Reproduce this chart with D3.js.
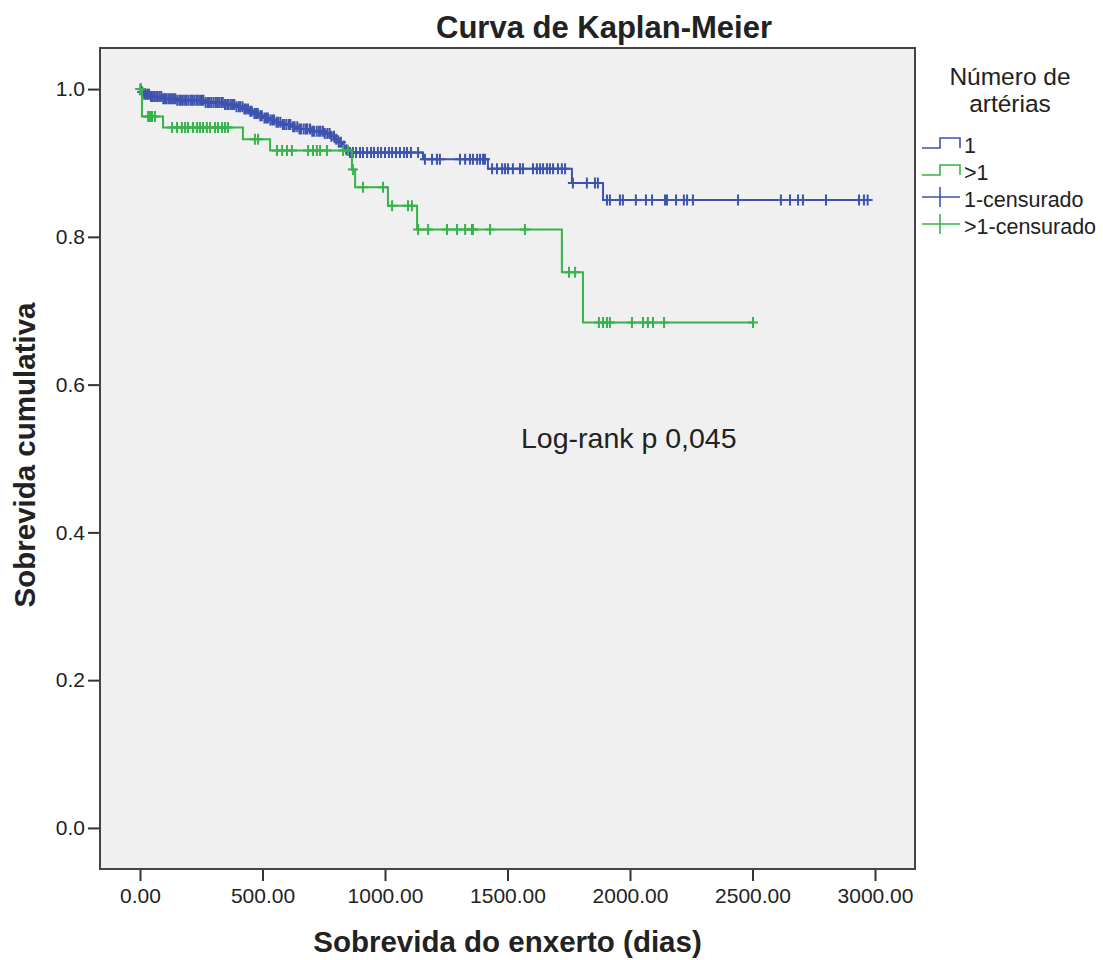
<!DOCTYPE html>
<html>
<head>
<meta charset="utf-8">
<title>Curva de Kaplan-Meier</title>
<script src="https://cdn.jsdelivr.net/npm/d3@7"></script>
<style>
    body { margin: 0; background: #fff; }
    text { font-family: "Liberation Sans", Arial, sans-serif; fill: #222; }
</style>
</head>
<body>
<script>
'use strict';

// tick labels
var xTicks = [0, 500, 1000, 1500, 2000, 2500, 3000];
var yTicks = [0, 0.2, 0.4, 0.6, 0.8, 1.0];

// group "1": event times (days) and cumulative survival after each step
var oneTimes = [0, 4, 15, 40, 90, 150, 260, 340, 390, 420, 445, 465, 485, 505, 525, 550, 580, 615,
    650, 700, 750, 775, 795, 810, 825, 838, 848, 1155, 1420, 1763, 1890];
var oneSurv = [1.0, 0.996, 0.993, 0.990, 0.987, 0.985, 0.982, 0.979, 0.976, 0.973, 0.970, 0.967, 0.964,
    0.961, 0.958, 0.955, 0.952, 0.949, 0.946, 0.943, 0.940, 0.936, 0.932, 0.928, 0.923, 0.918, 0.914,
    0.905, 0.892, 0.873, 0.850];
var oneCensored = [3, 9, 17, 24, 31, 37, 45, 51, 58, 66, 72, 80, 87, 95, 102, 108, 116, 123, 130, 138,
    144, 152, 161, 167, 175, 184, 190, 198, 207, 213, 221, 230, 236, 245, 253, 259, 268, 277, 283, 291,
    300, 309, 315, 323, 332, 338, 347, 356, 362, 371, 379, 385, 394, 403, 409, 418, 426, 432, 441, 450,
    456, 467, 474, 481, 491, 497, 508, 515, 522, 532, 540, 547, 557, 564, 573, 583, 589, 598, 608, 614,
    625, 631, 642, 651, 657, 668, 677, 683, 694, 703, 710, 721, 730, 737, 747, 754, 765, 774, 781, 792,
    801, 811, 820, 832, 843,
    857, 869, 882, 898, 910, 927, 943, 955, 971, 984, 1000, 1016, 1029, 1045, 1061, 1078, 1090, 1106, 1135,
    1163, 1192, 1212, 1224, 1306, 1327, 1347, 1359, 1376, 1388, 1400, 1408,
    1437, 1457, 1478, 1490, 1502, 1522, 1551, 1563, 1604, 1620, 1633, 1645, 1661, 1673, 1686, 1706, 1722, 1735,
    1767, 1824, 1857, 1869,
    1906, 1918, 1959, 1971, 2024, 2065, 2090, 2143, 2151, 2188, 2220, 2233, 2257, 2441, 2616, 2653, 2686,
    2706, 2800, 2935, 2955, 2970];

// group ">1"
var moreTimes = [0, 8, 94, 420, 531, 865, 878, 1012, 1131, 1722, 1808];
var moreSurv = [1.0, 0.963, 0.948, 0.932, 0.917, 0.891, 0.867, 0.842, 0.810, 0.752, 0.684];
var moreCensored = [1, 33, 41, 49, 61,
    131, 151, 171, 184, 196, 216, 233, 245, 257, 273, 286, 306, 318, 335, 347, 359,
    469, 482,
    559, 580, 600, 620, 686, 706, 722, 735, 763, 829, 849,
    869, 910, 992, 1029, 1094, 1110,
    1135, 1176, 1253, 1294, 1327, 1355, 1359, 1429, 1571,
    1751, 1776,
    1873, 1890, 1906, 1918, 2008, 2053, 2073, 2094, 2139, 2502];

var legendLabels = ['1', '>1', '1-censurado', '>1-censurado'];
var colors = { one: '#3e53ae', more: '#36b34a' };

var width = 1103;
var height = 960;
var plotLeft = 100, plotRight = 915, plotTop = 48, plotBottom = 869;

var x = d3.scaleLinear().domain([-163.3, 3163.3]).range([plotLeft, plotRight]);
var y = d3.scaleLinear().domain([-0.0556, 1.0556]).range([plotBottom, plotTop]);

var svg = d3.select('body').append('svg')
    .attr('width', width)
    .attr('height', height);

svg.append('rect')
    .attr('x', plotLeft).attr('y', plotTop)
    .attr('width', plotRight - plotLeft).attr('height', plotBottom - plotTop)
    .attr('fill', '#f0f0f0');

// axes
var xAxis = svg.append('g')
    .attr('transform', 'translate(0,' + plotBottom + ')')
    .call(d3.axisBottom(x).tickValues(xTicks).tickFormat(d3.format('.2f')).tickSize(12).tickSizeOuter(0).tickPadding(7));
var yAxis = svg.append('g')
    .attr('transform', 'translate(' + plotLeft + ',0)')
    .call(d3.axisLeft(y).tickValues(yTicks).tickFormat(d3.format('.1f')).tickSize(12).tickSizeOuter(0).tickPadding(3));

[xAxis, yAxis].forEach(function (a) {
    a.select('.domain').remove();
    a.selectAll('line').attr('stroke', '#333').attr('stroke-width', 2);
    a.selectAll('text').style('font-size', '21px').attr('fill', '#222');
});

function survivalAt(times, surv, t) {
    var i = d3.bisectRight(times, t) - 1;
    return surv[Math.max(i, 0)];
}

function drawGroup(times, surv, censored, color) {
    var pts = times.map(function (t, i) { return [t, surv[i]]; });
    var last = d3.max(censored);
    pts.push([last, surv[surv.length - 1]]);

    var line = d3.line()
        .x(function (d) { return x(d[0]); })
        .y(function (d) { return y(d[1]); })
        .curve(d3.curveStepAfter);

    svg.append('path')
        .datum(pts)
        .attr('d', line)
        .attr('fill', 'none')
        .attr('stroke', color)
        .attr('stroke-width', 2);

    svg.append('g')
        .selectAll('path')
        .data(censored)
        .enter().append('path')
        .attr('d', function (t) {
            var cx = x(t), cy = y(survivalAt(times, surv, t));
            return 'M' + (cx - 5) + ',' + cy + 'H' + (cx + 5) + 'M' + cx + ',' + (cy - 5.5) + 'V' + (cy + 5.5);
        })
        .attr('fill', 'none')
        .attr('stroke', color)
        .attr('stroke-width', 2);
}

drawGroup(oneTimes, oneSurv, oneCensored, colors.one);
drawGroup(moreTimes, moreSurv, moreCensored, colors.more);

// frame
svg.append('rect')
    .attr('x', plotLeft).attr('y', plotTop)
    .attr('width', plotRight - plotLeft).attr('height', plotBottom - plotTop)
    .attr('fill', 'none')
    .attr('stroke', '#444')
    .attr('stroke-width', 2);

// titles
svg.append('text')
    .attr('x', 604).attr('y', 38)
    .attr('text-anchor', 'middle')
    .style('font-size', '31px').style('font-weight', 'bold')
    .attr('fill', '#000')
    .text('Curva de Kaplan-Meier');

svg.append('text')
    .attr('x', (plotLeft + plotRight) / 2).attr('y', 952)
    .attr('text-anchor', 'middle')
    .style('font-size', '29.5px').style('font-weight', 'bold')
    .attr('fill', '#000')
    .text('Sobrevida do enxerto (dias)');

svg.append('text')
    .attr('transform', 'translate(35,455) rotate(-90)')
    .attr('text-anchor', 'middle')
    .style('font-size', '29.5px').style('font-weight', 'bold')
    .attr('fill', '#000')
    .text('Sobrevida cumulativa');

svg.append('text')
    .attr('x', 521).attr('y', 448)
    .style('font-size', '28.5px')
    .text('Log-rank p 0,045');

// legend
var legend = svg.append('g');
legend.append('text')
    .attr('x', 1010).attr('y', 85)
    .attr('text-anchor', 'middle')
    .style('font-size', '24.5px')
    .text('Número de');
legend.append('text')
    .attr('x', 1010).attr('y', 112)
    .attr('text-anchor', 'middle')
    .style('font-size', '24.5px')
    .text('artérias');

var legendColors = [colors.one, colors.more, colors.one, colors.more];
var rows = legend.selectAll('g.row')
    .data(legendLabels)
    .enter().append('g')
    .attr('class', 'row')
    .attr('transform', function (d, i) { return 'translate(0,' + (i * 27) + ')'; });

rows.append('path')
    .attr('d', function (d, i) {
        if (i < 2) {
            return 'M922,148H940V138H960V148';
        }
        return 'M922,143H960M940,133V153';
    })
    .attr('fill', 'none')
    .attr('stroke', function (d, i) { return legendColors[i]; })
    .attr('stroke-width', 1.6);

rows.append('text')
    .attr('x', 964).attr('y', 153)
    .style('font-size', '21.5px')
    .text(function (d) { return d; });
</script>
</body>
</html>
